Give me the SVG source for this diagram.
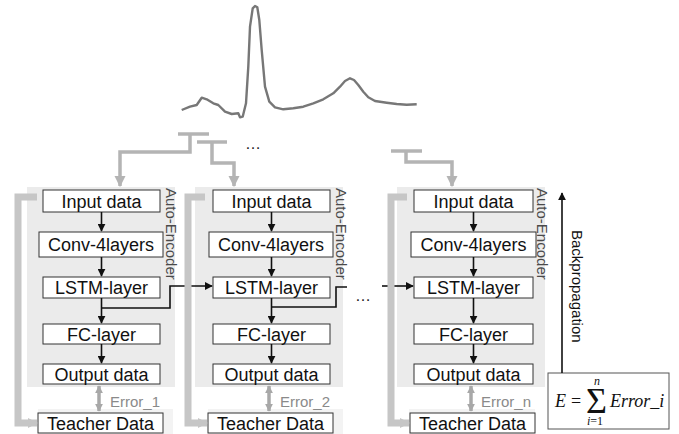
<svg xmlns="http://www.w3.org/2000/svg" width="679" height="434" viewBox="0 0 679 434">
<style>
.bg{fill:#ebebeb}
.strip{fill:#f3f3f3}
.box{fill:#fff;stroke:#333;stroke-width:1}
.lbl{font-family:"Liberation Sans",Arial,sans-serif;font-size:18px;fill:#111;text-anchor:middle}
.ae{font-family:"Liberation Sans",Arial,sans-serif;font-size:15px;fill:#4a4a4a}
.err{font-family:"Liberation Sans",Arial,sans-serif;font-size:15px;fill:#8a8a8a}
.blk{fill:none;stroke:#111;stroke-width:1.6}
.gin{fill:none;stroke:#b4b4b4;stroke-width:3.5}
.gl{fill:none;stroke:#c6c6c6;stroke-width:7}
.gerr{fill:none;stroke:#a8a8a8;stroke-width:3.5}
.math{font-family:"Liberation Serif","Times New Roman",serif;fill:#111}
</style>
<defs>
<marker id="ab" viewBox="0 0 10 10" refX="9" refY="5" markerWidth="8" markerHeight="8" markerUnits="userSpaceOnUse" orient="auto"><path d="M0,0 L10,5 L0,10 z" fill="#111"/></marker>
<marker id="ag" viewBox="0 0 10 10" refX="9" refY="5" markerWidth="11" markerHeight="12" markerUnits="userSpaceOnUse" orient="auto"><path d="M0,0 L10,5 L0,10 z" fill="#b4b4b4"/></marker>
<marker id="agl" viewBox="0 0 10 10" refX="9" refY="5" markerWidth="10" markerHeight="16" markerUnits="userSpaceOnUse" orient="auto"><path d="M0,0 L10,5 L0,10 z" fill="#c6c6c6"/></marker>
<marker id="ae1" viewBox="0 0 10 10" refX="9" refY="5" markerWidth="8" markerHeight="10" markerUnits="userSpaceOnUse" orient="auto-start-reverse"><path d="M0,0 L10,5 L0,10 z" fill="#a8a8a8"/></marker>
</defs>

<g id="ecg">
<path d="M181.7,110 L190,106.7 L196.7,105 L201.7,97.7 L206.7,99.3 L213.3,103.3 L218.3,105 L225,111.7 L231.7,114 L238.3,113.3 L240,117.3 L242.7,116.7 L246,103.3 L248.3,66.7 L250,26.7 L252.7,8.3 L255,6 L257.3,7.3 L259.3,20 L261.7,50 L265,86.7 L269.3,101.7 L275,107.3 L283.3,109.3 L293.3,108.3 L303.3,106.7 L313.3,103.3 L323.3,99.3 L333.3,93.3 L340,86.7 L345,81 L350,78.3 L354,80 L358.3,85 L363.3,91.7 L368.3,97.3 L375,101 L386.7,102.7 L396.7,104 L406.7,104.7 L416.7,104.3" fill="none" stroke="#777" stroke-width="2.4" stroke-linejoin="round"/>
</g>

<g id="panel1">
<rect class="bg" x="27" y="187" width="148" height="200"/>
<rect class="strip" x="38" y="409" width="135" height="25"/>
<text class="ae" transform="translate(166,188) rotate(90)">Auto-Encoder</text>
<g id="p1-input"><rect class="box" x="43" y="190" width="117" height="22"/><text class="lbl" x="101.5" y="207.5">Input data</text></g>
<g id="p1-conv"><rect class="box" x="39" y="232" width="124" height="25"/><text class="lbl" x="101" y="251">Conv-4layers</text></g>
<g id="p1-lstm"><rect class="box" x="43" y="277" width="117" height="21"/><text class="lbl" x="101.5" y="294">LSTM-layer</text></g>
<g id="p1-fc"><rect class="box" x="43" y="324" width="117" height="20"/><text class="lbl" x="101.5" y="340.5">FC-layer</text></g>
<g id="p1-output"><rect class="box" x="43" y="364" width="117" height="20"/><text class="lbl" x="101.5" y="380.5">Output data</text></g>
<g id="p1-teacher"><rect class="box" x="38" y="413" width="125" height="20"/><text class="lbl" x="100.5" y="429.5">Teacher Data</text></g>
<text class="err" x="110" y="407">Error_1</text>
</g>

<g id="panel2">
<rect class="bg" x="195" y="187" width="148" height="200"/>
<rect class="strip" x="208" y="409" width="135" height="25"/>
<text class="ae" transform="translate(336,188) rotate(90)">Auto-Encoder</text>
<g id="p2-input"><rect class="box" x="213" y="190" width="117" height="22"/><text class="lbl" x="271.5" y="207.5">Input data</text></g>
<g id="p2-conv"><rect class="box" x="209" y="232" width="124" height="25"/><text class="lbl" x="271" y="251">Conv-4layers</text></g>
<g id="p2-lstm"><rect class="box" x="213" y="277" width="117" height="21"/><text class="lbl" x="271.5" y="294">LSTM-layer</text></g>
<g id="p2-fc"><rect class="box" x="213" y="324" width="117" height="20"/><text class="lbl" x="271.5" y="340.5">FC-layer</text></g>
<g id="p2-output"><rect class="box" x="213" y="364" width="117" height="20"/><text class="lbl" x="271.5" y="380.5">Output data</text></g>
<g id="p2-teacher"><rect class="box" x="208" y="413" width="125" height="20"/><text class="lbl" x="270.5" y="429.5">Teacher Data</text></g>
<text class="err" x="280" y="407">Error_2</text>
</g>

<g id="panel3">
<rect class="bg" x="397" y="187" width="148" height="200"/>
<rect class="strip" x="409" y="409" width="126" height="25"/>
<text class="ae" transform="translate(537,188) rotate(90)">Auto-Encoder</text>
<g id="p3-input"><rect class="box" x="414" y="190" width="119" height="22"/><text class="lbl" x="473.5" y="207.5">Input data</text></g>
<g id="p3-conv"><rect class="box" x="411" y="232" width="125" height="25"/><text class="lbl" x="473.5" y="251">Conv-4layers</text></g>
<g id="p3-lstm"><rect class="box" x="414" y="277" width="119" height="21"/><text class="lbl" x="473.5" y="294">LSTM-layer</text></g>
<g id="p3-fc"><rect class="box" x="414" y="324" width="119" height="20"/><text class="lbl" x="473.5" y="340.5">FC-layer</text></g>
<g id="p3-output"><rect class="box" x="414" y="364" width="119" height="20"/><text class="lbl" x="473.5" y="380.5">Output data</text></g>
<g id="p3-teacher"><rect class="box" x="410" y="413" width="125" height="20"/><text class="lbl" x="472.5" y="429.5">Teacher Data</text></g>
<text class="err" x="481" y="407">Error_n</text>
</g>

<g id="formula">
<rect x="548" y="373" width="121" height="56" fill="#fff" stroke="#555" stroke-width="1"/>
<text class="math" x="555" y="407" font-size="18" font-style="italic">E</text>
<text class="math" x="571" y="407" font-size="18">=</text>
<text class="math" x="586" y="413" font-size="36">Σ</text>
<text class="math" x="594" y="385" font-size="12" font-style="italic">n</text>
<text class="math" x="587" y="425" font-size="12" font-style="italic">i<tspan font-style="normal">=1</tspan></text>
<text class="math" x="610" y="407" font-size="18" font-style="italic">Error_i</text>
</g>

<g id="backprop">
<text font-family="Liberation Sans,Arial,sans-serif" font-size="15" fill="#111" transform="translate(572,230) rotate(90)">Backpropagation</text>
</g>

<text font-family="Liberation Sans,Arial,sans-serif" font-size="16" fill="#222" x="245" y="149">…</text>
<text font-family="Liberation Sans,Arial,sans-serif" font-size="16" fill="#222" x="355" y="301">…</text>

<g id="connectors">
<path class="blk" d="M101.5,212 V231" marker-end="url(#ab)"/>
<path class="blk" d="M101.5,257 V276" marker-end="url(#ab)"/>
<path class="blk" d="M101.5,298 V323" marker-end="url(#ab)"/>
<path class="blk" d="M101.5,344 V363" marker-end="url(#ab)"/>
<path class="blk" d="M271.5,212 V231" marker-end="url(#ab)"/>
<path class="blk" d="M271.5,257 V276" marker-end="url(#ab)"/>
<path class="blk" d="M271.5,298 V323" marker-end="url(#ab)"/>
<path class="blk" d="M271.5,344 V363" marker-end="url(#ab)"/>
<path class="blk" d="M473.5,212 V231" marker-end="url(#ab)"/>
<path class="blk" d="M473.5,257 V276" marker-end="url(#ab)"/>
<path class="blk" d="M473.5,298 V323" marker-end="url(#ab)"/>
<path class="blk" d="M473.5,344 V363" marker-end="url(#ab)"/>
<path class="blk" d="M101.5,308 H170 V286 H212" marker-end="url(#ab)"/>
<path class="blk" d="M271.5,307 H336 V287 H347"/>
<path class="blk" d="M382,286 H413" marker-end="url(#ab)"/>
<path class="blk" d="M562,373 V193" marker-end="url(#ab)"/>
<path class="gin" d="M178,134 H209"/>
<path class="gin" d="M190,134 V152 H120 V186" marker-end="url(#ag)"/>
<path class="gin" d="M197,142 H227"/>
<path class="gin" d="M212,142 V163 H234 V186" marker-end="url(#ag)"/>
<path class="gin" d="M391,151 H422"/>
<path class="gin" d="M406,151 V162 H452 V186" marker-end="url(#ag)"/>
<path class="gl" d="M37,197 H18 V423 H37" marker-end="url(#agl)"/>
<path class="gl" d="M205,197 H188 V423 H207" marker-end="url(#agl)"/>
<path class="gl" d="M407,197 H391 V423 H409" marker-end="url(#agl)"/>
<path class="gerr" d="M99,386 V411" marker-start="url(#ae1)" marker-end="url(#ae1)"/>
<path class="gerr" d="M269,386 V411" marker-start="url(#ae1)" marker-end="url(#ae1)"/>
<path class="gerr" d="M471,386 V411" marker-start="url(#ae1)" marker-end="url(#ae1)"/>
</g>
</svg>
